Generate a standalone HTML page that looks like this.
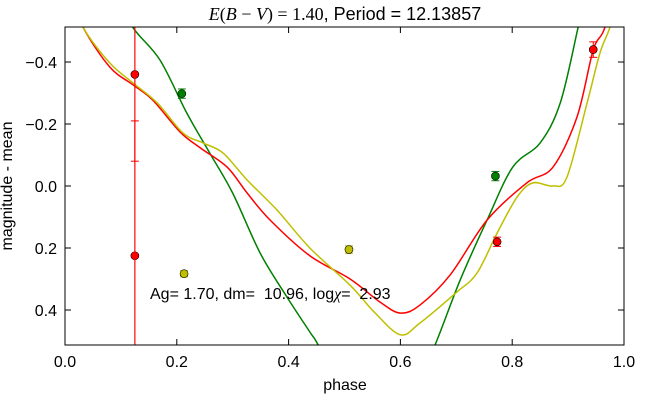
<!DOCTYPE html>
<html><head><meta charset="utf-8"><style>
html,body{margin:0;padding:0;background:#fff;width:650px;height:401px;overflow:hidden;}
svg{display:block;font-family:"Liberation Sans",sans-serif;}
text{white-space:pre;}
</style></head><body>
<svg id="chart" width="650" height="401">
<defs><clipPath id="clip"><rect x="65" y="27" width="559" height="318"/></clipPath></defs>
<rect x="0" y="0" width="650" height="401" fill="#fff"/>
<text x="345" y="20" text-anchor="middle" font-size="18"><tspan font-family="Liberation Serif" font-style="italic">E</tspan><tspan font-family="Liberation Serif">(</tspan><tspan font-family="Liberation Serif" font-style="italic">B</tspan><tspan font-family="Liberation Serif"> − </tspan><tspan font-family="Liberation Serif" font-style="italic">V</tspan><tspan font-family="Liberation Serif">) = 1.40</tspan>, Period = 12.13857</text>
<g id="plot" clip-path="url(#clip)"></g>
<g id="axes"></g>
<text x="150" y="299" font-size="16" xml:space="preserve">Ag= 1.70, dm=  10.96, log<tspan font-family="Liberation Serif" font-style="italic">χ</tspan>=  2.93</text>
<text x="345" y="390" text-anchor="middle" font-size="16">phase</text>
<text x="12" y="186" text-anchor="middle" font-size="16" transform="rotate(-90 12 186)">magnitude - mean</text>
</svg>
<script>
const xTicks=[0,0.2,0.4,0.6,0.8,1.0];
const xTickLabels=["0.0","0.2","0.4","0.6","0.8","1.0"];
const yTicks=[-0.4,-0.2,0,0.2,0.4];
const yTickLabels=["−0.4","−0.2","0.0","0.2","0.4"];
const redCurveX=[0.0,0.032,0.08,0.122,0.157,0.206,0.242,0.29,0.326,0.367,0.438,0.51,0.564,0.6,0.635,0.689,0.755,0.826,0.873,0.916,0.945,0.966,0.99];
const redCurveY=[-0.65,-0.513,-0.384,-0.326,-0.277,-0.174,-0.123,-0.061,0.023,0.11,0.225,0.3,0.375,0.41,0.384,0.287,0.11,-0.01,-0.061,-0.223,-0.439,-0.513,-0.7];
const yelCurveX=[0.0,0.032,0.08,0.122,0.165,0.211,0.247,0.283,0.326,0.379,0.438,0.51,0.555,0.6,0.635,0.701,0.737,0.773,0.809,0.837,0.873,0.898,0.934,0.957,0.975,0.99];
const yelCurveY=[-0.65,-0.513,-0.397,-0.332,-0.268,-0.171,-0.139,-0.106,-0.019,0.077,0.2,0.32,0.41,0.48,0.442,0.342,0.281,0.152,0.035,-0.01,0,-0.029,-0.268,-0.429,-0.513,-0.62];
const grnCurveX=[0.09,0.122,0.17,0.218,0.259,0.3,0.349,0.397,0.438,0.453,0.5,0.56,0.62,0.662,0.707,0.755,0.801,0.85,0.886,0.918,0.94];
const grnCurveY=[-0.62,-0.51,-0.406,-0.235,-0.106,0.023,0.216,0.358,0.471,0.513,0.68,0.78,0.68,0.513,0.303,0.11,-0.061,-0.139,-0.268,-0.513,-0.7];
const redPtsX=[0.125,0.125,0.773,0.945];
const redPtsY=[-0.36,0.225,0.18,-0.44];
const redPtsErr=[0.28,0.435,0.015,0.025];
const grnPtsX=[0.209,0.77];
const grnPtsY=[-0.298,-0.032];
const grnPtsErr=[0.015,0.015];
const yelPtsX=[0.213,0.508];
const yelPtsY=[0.283,0.205];
const yelPtsErr=[0.01,0.012];

const L=65,R=624,T=27,B=345;
const sx=v=>L+v*(R-L);
const sy=v=>186+v*310;
const NS="http://www.w3.org/2000/svg";
const plot=document.getElementById('plot'),axes=document.getElementById('axes');
function mk(tag,attrs,parent){const e=document.createElementNS(NS,tag);for(const k in attrs)e.setAttribute(k,attrs[k]);parent.appendChild(e);return e;}
function curve(xs,ys,color,name){
  const p=xs.map((x,i)=>[sx(x),sy(ys[i])]);
  let d="M"+p[0][0]+","+p[0][1];
  for(let i=0;i<p.length-1;i++){
    const p0=p[Math.max(0,i-1)],p1=p[i],p2=p[i+1],p3=p[Math.min(p.length-1,i+2)];
    const c1=[p1[0]+(p2[0]-p0[0])/6,p1[1]+(p2[1]-p0[1])/6];
    const c2=[p2[0]-(p3[0]-p1[0])/6,p2[1]-(p3[1]-p1[1])/6];
    d+=` C${c1[0]},${c1[1]} ${c2[0]},${c2[1]} ${p2[0]},${p2[1]}`;
  }
  const el=mk('path',{d:d,fill:'none',stroke:color,'stroke-width':1.5},plot);
  
  
}
curve(grnCurveX,grnCurveY,'#008000','green-fit-curve');
curve(redCurveX,redCurveY,'#ff0000','red-fit-curve');
curve(yelCurveX,yelCurveY,'#bfbf00','yellow-fit-curve');
function pts(xs,ys,es,color,name){
  xs.forEach((x,i)=>{
    const g=mk('g',{},plot);
    
    
    const cx=sx(x),y1=sy(ys[i]-es[i]),y2=sy(ys[i]+es[i]);
    mk('line',{x1:cx,x2:cx,y1:y1,y2:y2,stroke:color,'stroke-width':1},g);
    mk('line',{x1:cx-4,x2:cx+4,y1:y1,y2:y1,stroke:color,'stroke-width':1},g);
    mk('line',{x1:cx-4,x2:cx+4,y1:y2,y2:y2,stroke:color,'stroke-width':1},g);
    mk('circle',{cx:cx,cy:sy(ys[i]),r:4,fill:color,stroke:'#000','stroke-width':0.6},g);
  });
}
pts(redPtsX,redPtsY,redPtsErr,'#ff0000','red-data-point');
pts(grnPtsX,grnPtsY,grnPtsErr,'#008000','green-data-point');
pts(yelPtsX,yelPtsY,yelPtsErr,'#bfbf00','yellow-data-point');
const vl=mk('line',{x1:sx(0.125),x2:sx(0.125),y1:T,y2:B,stroke:'#ff0000','stroke-width':1},plot);


const frame=mk('rect',{x:L,y:T,width:R-L,height:B-T,fill:'none',stroke:'#000','stroke-width':1},axes);


xTicks.forEach((v,i)=>{
  const x=sx(v);
  mk('line',{x1:x,x2:x,y1:B,y2:B-6,stroke:'#000'},axes);
  mk('line',{x1:x,x2:x,y1:T,y2:T+6,stroke:'#000'},axes);
  const t=mk('text',{x:x,y:B+22,'text-anchor':'middle','font-size':16},axes);
  t.textContent=xTickLabels[i];
  
  
});
yTicks.forEach((v,i)=>{
  const y=sy(v);
  mk('line',{x1:L,x2:L+6,y1:y,y2:y,stroke:'#000'},axes);
  mk('line',{x1:R,x2:R-6,y1:y,y2:y,stroke:'#000'},axes);
  const t=mk('text',{x:L-8,y:y+6,'text-anchor':'end','font-size':16},axes);
  t.textContent=yTickLabels[i];
  
  
});
</script>
</body></html>
